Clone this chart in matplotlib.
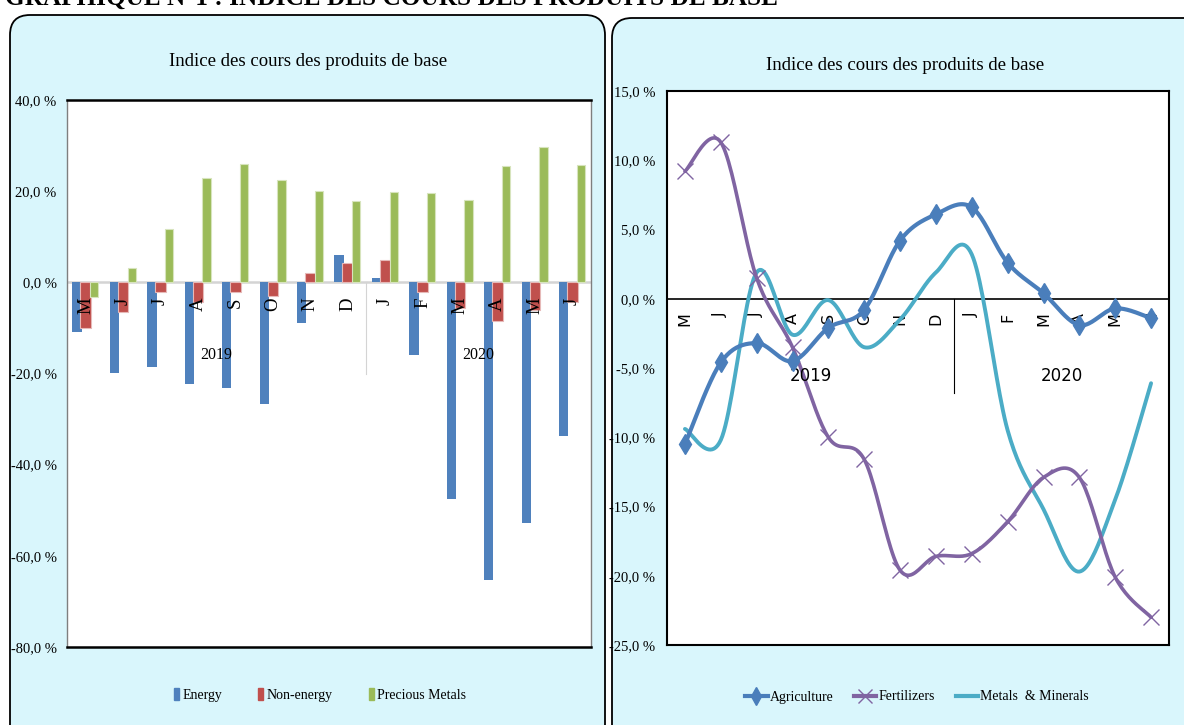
import numpy as np
import matplotlib
matplotlib.use("Agg")
import matplotlib.pyplot as plt
from matplotlib.patches import FancyBboxPatch
from matplotlib.transforms import IdentityTransform
from matplotlib.lines import Line2D
from matplotlib.patches import Patch

# données
mois = ["M", "J", "J", "A", "S", "O", "N", "D", "J", "F", "M", "A", "M", "J"]
annees = ["2019", "2020"]

energy = [-11.0, -19.8, -18.5, -22.2, -23.1, -26.8, -9.0, 5.9, 0.9, -16.0, -47.5, -65.3, -52.7, -33.8]
non_energy = [-10.1, -6.4, -2.2, -4.4, -2.2, -2.9, 2.0, 4.3, 5.0, -2.2, -5.7, -8.5, -6.1, -4.4]
precious = [-3.2, 3.2, 11.6, 22.9, 25.9, 22.4, 20.0, 17.8, 19.8, 19.6, 18.0, 25.5, 29.7, 25.7]

agriculture = [-10.5, -4.6, -3.2, -4.5, -2.1, -0.8, 4.2, 6.1, 6.6, 2.6, 0.4, -1.9, -0.7, -1.4]
fertilizers = [9.2, 11.3, 1.5, -3.5, -10.0, -11.6, -19.6, -18.6, -18.4, -16.1, -12.9, -12.9, -20.1, -23.0]
metals = [-9.4, -10.2, 1.9, -2.6, -0.1, -3.5, -1.5, 1.9, 3.2, -9.5, -15.2, -19.7, -14.5, -6.1]

titre = "Indice des cours des produits de base"

SERIF = "Liberation Serif"
BG = "#d9f6fc"


def lisse(y, n=24):
    # courbe lissée façon Excel (Bezier / Catmull-Rom) passant par les points
    y = np.asarray(y, float)
    x = np.arange(len(y), dtype=float)
    p = np.column_stack([x, y])
    pp = np.vstack([p[0], p, p[-1]])
    out = []
    for i in range(len(p) - 1):
        p0, p1, p2, p3 = pp[i], pp[i + 1], pp[i + 2], pp[i + 3]
        c1 = p1 + (p2 - p0) / 6
        c2 = p2 - (p3 - p1) / 6
        t = np.linspace(0, 1, n)[:, None]
        seg = ((1 - t) ** 3) * p1 + 3 * ((1 - t) ** 2) * t * c1 + 3 * (1 - t) * t ** 2 * c2 + t ** 3 * p2
        out.append(seg if i == 0 else seg[1:])
    s = np.vstack(out)
    return s[:, 0], s[:, 1]


def fmt_pct(v, pos=None):
    return f"{v:.1f}".replace(".", ",") + " %"


fig = plt.figure(figsize=(11.84, 7.25), dpi=100)

# cadres arrondis
for x0, x1, ytop in [(10, 605, 710), (612, 1205, 707)]:
    fig.patches.append(FancyBboxPatch((x0, -40), x1 - x0, ytop + 40,
                                      boxstyle="round,pad=0,rounding_size=20",
                                      transform=IdentityTransform(), facecolor=BG,
                                      edgecolor="black", lw=1.3, zorder=-5))

# titre général (coupé en haut comme sur l'original)
fig.text(5 / 1184, 1 - 4.5 / 725, "GRAPHIQUE N°1 : INDICE DES COURS DES PRODUITS DE BASE",
         fontsize=18.2, fontweight="bold", family=SERIF, va="baseline", ha="left")

x = np.arange(len(mois))

# ---- graphique 1 : barres
ax1 = fig.add_axes([67 / 1184, 1 - 647 / 725, (591 - 67) / 1184, (647 - 100) / 725])
ax1.set_zorder(2)
ax1.set_facecolor("white")
ax1.axhline(0, color="#d4d4d4", lw=1.8, zorder=1)
ax1.bar(x - 0.23, energy, 0.25, color="#4f81bd", zorder=2)
ax1.bar(x, non_energy, 0.28, color="#c0504d", edgecolor="#e6b9b8", lw=0.8, zorder=3)
ax1.bar(x + 0.23, precious, 0.22, color="#9bbb59", edgecolor="#d7e4bd", lw=0.8, zorder=4)
ax1.set_xlim(-0.5, len(mois) - 0.5)
ax1.set_ylim(-80, 40)
ax1.set_yticks(np.arange(-80, 41, 20))
ax1.yaxis.set_major_formatter(plt.FuncFormatter(fmt_pct))
ax1.set_xticks([])
ax1.tick_params(axis="y", length=0, pad=7.5, labelsize=10.5)
for lab in ax1.get_yticklabels():
    lab.set_family(SERIF)
for i, m in enumerate(mois):
    ax1.text(i, -3.3, m, rotation=90, ha="center", va="top", family=SERIF, fontsize=13.5, zorder=6)
ax1.plot([7.5, 7.5], [0, -20], color="#d4d4d4", lw=0.8)
ax1.text(3.5, -16, annees[0], ha="center", va="center", family=SERIF, fontsize=11.5)
ax1.text(10.5, -16, annees[1], ha="center", va="center", family=SERIF, fontsize=11.5)
for s in ["top", "bottom"]:
    ax1.spines[s].set_linewidth(1.8)
    ax1.spines[s].set_color("black")
for s in ["left", "right"]:
    ax1.spines[s].set_color("#7f7f7f")
    ax1.spines[s].set_linewidth(1.0)
fig.text(308 / 1184, 1 - 62 / 725, titre, ha="center", va="center", family=SERIF, fontsize=13.5)

fig.legend(handles=[Patch(color="#4f81bd", label="Energy"),
                    Patch(color="#c0504d", label="Non-energy"),
                    Patch(color="#9bbb59", label="Precious Metals")],
           loc="center", bbox_to_anchor=(320 / 1184, 1 - 695 / 725), ncol=3, frameon=False,
           handlelength=0.35, handleheight=1.0, handletextpad=0.25, columnspacing=2.6,
           prop={"family": SERIF, "size": 10})

# ---- graphique 2 : courbes
ax2 = fig.add_axes([667 / 1184, 1 - 645 / 725, (1169 - 667) / 1184, (645 - 91) / 725])
ax2.set_zorder(2)
ax2.set_facecolor("white")
ax2.axhline(0, color="black", lw=1.2, zorder=1)
xs, ys = lisse(agriculture)
ax2.plot(xs, ys, color="#4a7ebb", lw=3, zorder=4, solid_capstyle="round")
ax2.plot(x, agriculture, ls="none", marker="d", ms=10, color="#4a7ebb", zorder=4)
xs, ys = lisse(fertilizers)
ax2.plot(xs, ys, color="#8064a2", lw=2.6, zorder=3, solid_capstyle="round")
ax2.plot(x, fertilizers, ls="none", marker="x", ms=11, mew=1.0, color="#8064a2", zorder=3)
xs, ys = lisse(metals)
ax2.plot(xs, ys, color="#4bacc6", lw=2.8, zorder=2, solid_capstyle="round")
ax2.set_xlim(-0.5, len(mois) - 0.5)
ax2.set_ylim(-25, 15)
ax2.set_yticks(np.arange(-25, 16, 5))
ax2.yaxis.set_major_formatter(plt.FuncFormatter(fmt_pct))
ax2.set_xticks([])
ax2.tick_params(axis="y", length=0, pad=8.5, labelsize=10.5)
for lab in ax2.get_yticklabels():
    lab.set_family(SERIF)
for i, m in enumerate(mois):
    ax2.text(i, -1.0, m, rotation=90, ha="center", va="top", family="DejaVu Sans", fontsize=11.5, zorder=1)
ax2.plot([7.5, 7.5], [0, -6.8], color="black", lw=0.8)
ax2.text(3.5, -5.6, annees[0], ha="center", va="center", family="Liberation Sans Narrow", fontsize=12)
ax2.text(10.5, -5.6, annees[1], ha="center", va="center", family="Liberation Sans Narrow", fontsize=12)
for s in ax2.spines.values():
    s.set_color("black")
    s.set_linewidth(1.5)
fig.text(905 / 1184, 1 - 65 / 725, titre, ha="center", va="center", family=SERIF, fontsize=13.5)

fig.legend(handles=[Line2D([], [], color="#4a7ebb", lw=3, marker="d", ms=9, label="Agriculture"),
                    Line2D([], [], color="#8064a2", lw=3, marker="x", ms=10, mew=1, label="Fertilizers"),
                    Line2D([], [], color="#4bacc6", lw=3, label="Metals  & Minerals")],
           loc="center", bbox_to_anchor=(917 / 1184, 1 - 697 / 725), ncol=3, frameon=False,
           handlelength=1.6, handletextpad=0.15, columnspacing=1.5,
           prop={"family": SERIF, "size": 10})

fig.savefig("out.png", dpi=100, facecolor="white")
